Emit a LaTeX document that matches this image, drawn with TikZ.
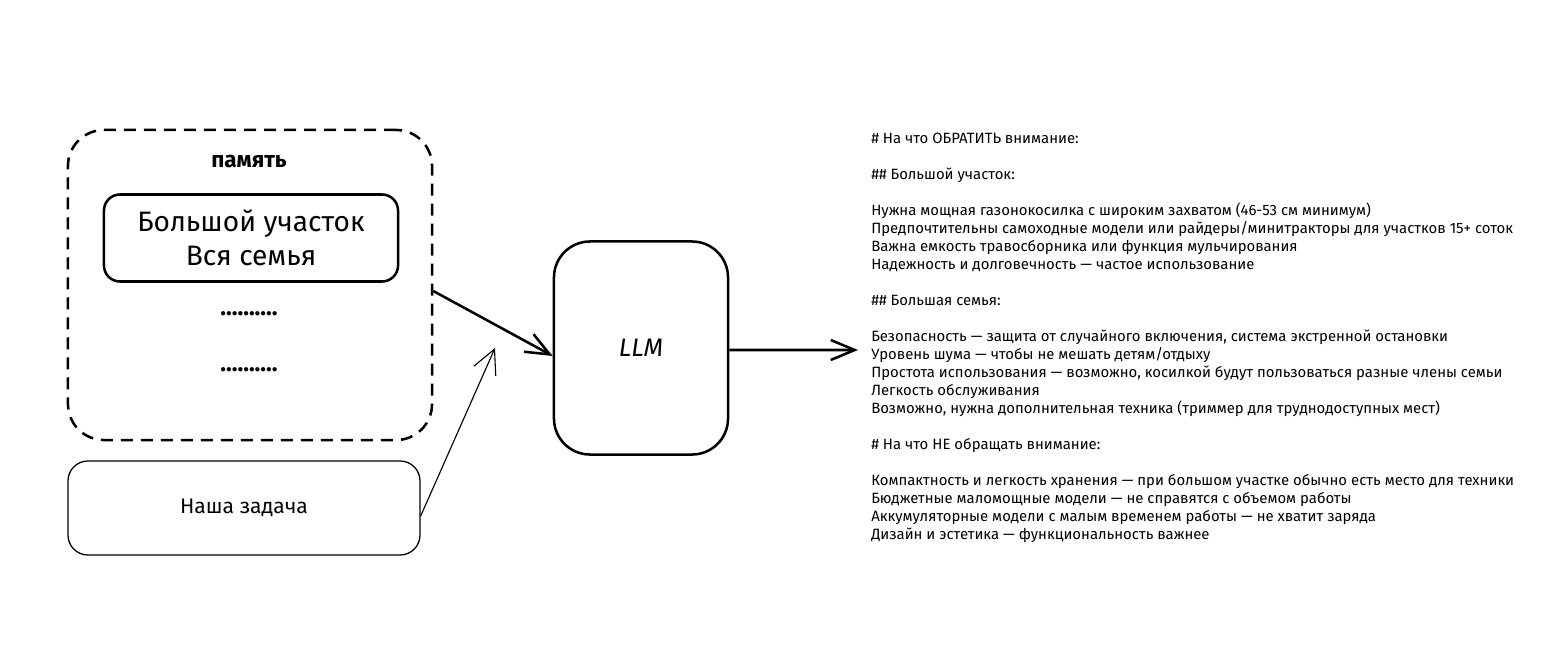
\documentclass[tikz,border=0pt]{standalone}
\usepackage{fontspec}
\setmainfont{Fira Sans}
\usepackage{tikz}
\usetikzlibrary{arrows.meta, positioning}

\begin{document}
\begin{tikzpicture}[
  x=0.025cm, y=-0.025cm,
  membox/.style={rectangle, rounded corners=0.9cm, draw=black, line width=1.8pt,
                 dash pattern=on 0.3cm off 0.2cm,
                 minimum width=9.1cm, minimum height=7.75cm},
  memitem/.style={rectangle, rounded corners=0.4cm, draw=black, line width=1.8pt,
                  minimum width=7.35cm, minimum height=2.175cm,
                  font=\fontsize{20}{24}\selectfont, align=center},
  taskbox/.style={rectangle, rounded corners=0.5cm, draw=black, line width=0.9pt,
                  minimum width=8.8cm, minimum height=2.35cm,
                  font=\fontsize{15}{18}\selectfont},
  llmbox/.style={rectangle, rounded corners=0.9cm, draw=black, line width=1.8pt,
                 minimum width=4.35cm, minimum height=5.325cm,
                 font=\fontsize{18}{20}\selectfont\itshape},
  notes/.style={align=left, inner sep=0pt, anchor=north west,
                font=\fontsize{10.6}{12.8}\selectfont},
  dotrow/.style={font=\fontsize{17}{18}\selectfont\bfseries},
  arr/.style={-{Straight Barb[length=6mm, width=5mm]}, line width=1.8pt},
  arrthin/.style={-{Straight Barb[length=6mm, width=6mm]}, line width=0.8pt}
]
  \useasboundingbox (0,0) rectangle (1560,650);

  % memory block
  \node[membox] (mem) at (250,285) {};
  \node[font=\fontsize{16}{18}\selectfont\bfseries] (memtitle) at (249,162) {память};
  \node[memitem] (item) at (251,238) {Большой участок\\Вся семья};
  \node[dotrow] (dots1) at (249,314) {..........};
  \node[dotrow] (dots2) at (249,370) {..........};

  % task and model
  \node[taskbox] (task) at (244,508) {Наша задача};
  \node[llmbox] (llm) at (641,348) {LLM};

  % answer
  \node[notes] (answer) at (871,133) {%
    \# На что ОБРАТИТЬ внимание:\\
    ~\\
    \#\# Большой участок:\\
    ~\\
    Нужна мощная газонокосилка с широким захватом (46-53 см минимум)\\
    Предпочтительны самоходные модели или райдеры/минитракторы для участков 15+ соток\\
    Важна емкость травосборника или функция мульчирования\\
    Надежность и долговечность — частое использование\\
    ~\\
    \#\# Большая семья:\\
    ~\\
    Безопасность — защита от случайного включения, система экстренной остановки\\
    Уровень шума — чтобы не мешать детям/отдыху\\
    Простота использования — возможно, косилкой будут пользоваться разные члены семьи\\
    Легкость обслуживания\\
    Возможно, нужна дополнительная техника (триммер для труднодоступных мест)\\
    ~\\
    \# На что НЕ обращать внимание:\\
    ~\\
    Компактность и легкость хранения — при большом участке обычно есть место для техники\\
    Бюджетные маломощные модели — не справятся с объемом работы\\
    Аккумуляторные модели с малым временем работы — не хватит заряда\\
    Дизайн и эстетика — функциональность важнее};

  \coordinate (taskend) at (495,348);
  \coordinate (outend) at (858,350);

  \draw[arr] ([yshift=-0.15cm]mem.east) -- ([yshift=-0.2cm]llm.west);
  \draw[arrthin] ([yshift=-0.2cm]task.east) -- (taskend);
  \draw[arr] ([yshift=-0.05cm]llm.east) -- (outend);
\end{tikzpicture}
\end{document}
